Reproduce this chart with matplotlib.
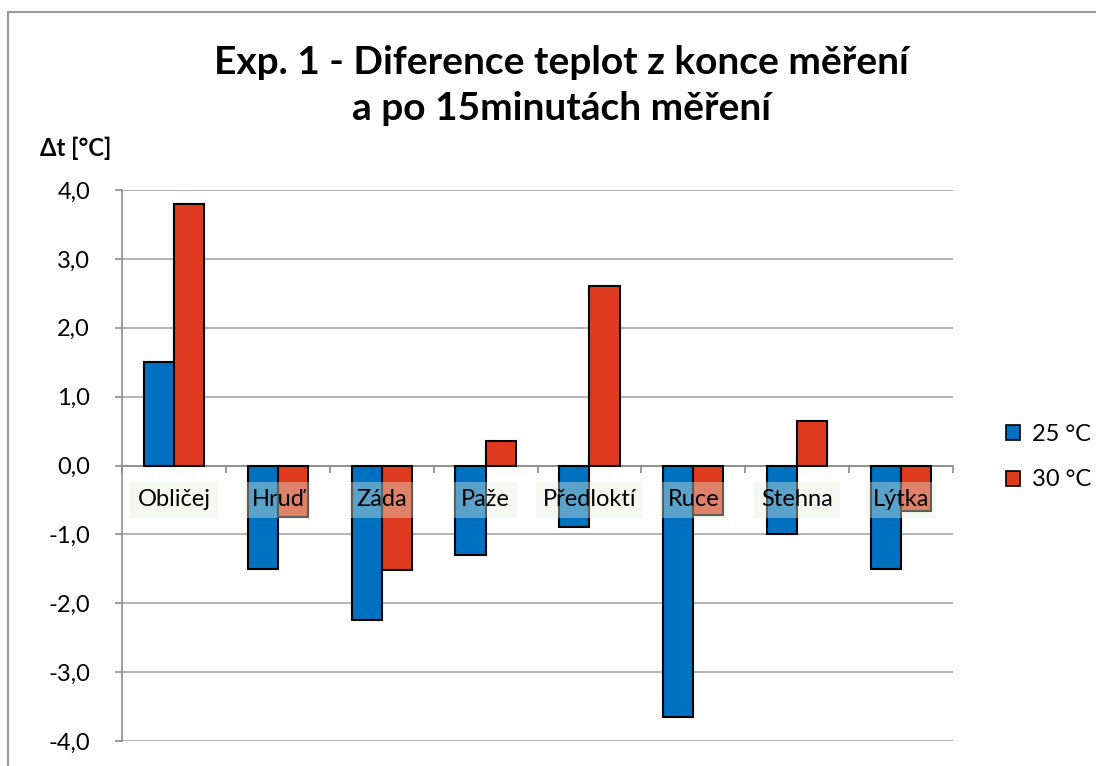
import matplotlib
matplotlib.use("Agg")
import matplotlib.pyplot as plt
from matplotlib.lines import Line2D
from matplotlib.patches import Patch
import numpy as np

plt.rcParams['font.family'] = ['Lato', 'DejaVu Sans']

categories = ["Obličej", "Hruď", "Záda", "Paže", "Předloktí", "Ruce", "Stehna", "Lýtka"]
series_names = ["25 °C", "30 °C"]
values_25 = [1.5, -1.5, -2.25, -1.3, -0.9, -3.65, -1.0, -1.5]
values_30 = [3.8, -0.75, -1.52, 0.35, 2.6, -0.72, 0.65, -0.66]
y_ticks = [4, 3, 2, 1, 0, -1, -2, -3, -4]

blue = "#0070C0"
red = "#DF3B1F"
grid_col = "#A6A6A6"
axis_col = "#8C8C8C"

W, H = 1096, 766
fig = plt.figure(figsize=(W / 100, H / 100), dpi=100)
ax = fig.add_axes([122 / W, 1 - 741 / H, (953 - 122) / W, (741 - 190) / H])

x = np.arange(len(categories))
bw = 0.29
ax.bar(x - bw / 2, values_25, bw, color=blue, edgecolor="black", linewidth=1.5, zorder=3)
ax.bar(x + bw / 2, values_30, bw, color=red, edgecolor="black", linewidth=1.5, zorder=3)

ax.set_xlim(-0.5, len(categories) - 0.5)
ax.set_ylim(-4, 4)
ax.tick_params(axis='x', direction='out', length=5, width=1.2, color=axis_col)
ax.tick_params(axis='y', direction='out', length=5, width=1.2, color=axis_col, pad=18)
ax.set_yticks(y_ticks)
ax.set_yticklabels([f"{v:.1f}".replace(".", ",") for v in y_ticks], fontsize=17)
ax.yaxis.grid(True, color=grid_col, linewidth=1.2, zorder=0)
ax.set_axisbelow(True)

# category axis runs along zero with ticks at group boundaries
ax.spines['bottom'].set_position(('data', 0))
ax.spines['bottom'].set_color(axis_col)
ax.spines['bottom'].set_linewidth(1.2)
ax.spines['left'].set_color(axis_col)
ax.spines['left'].set_linewidth(1.2)
ax.spines['top'].set_visible(False)
ax.spines['right'].set_visible(False)
ax.set_xticks(np.arange(len(categories) + 1) - 0.5)
ax.set_xticklabels([])

for xi, name in zip(x, categories):
    ax.text(xi, -0.5, name, ha='center', va='center', fontsize=17, zorder=5,
            bbox=dict(boxstyle='square,pad=0.3', facecolor=(228/255, 238/255, 218/255),
                      alpha=0.4, edgecolor='none'))

fig.text(561 / W, 1 - 62 / H, "Exp. 1 - Diference teplot z konce měření",
         ha='center', va='center', fontsize=28, fontweight='bold')
fig.text(561 / W, 1 - 109 / H, "a po 15minutách měření",
         ha='center', va='center', fontsize=28, fontweight='bold')
fig.text(40 / W, 1 - 148 / H, "Δt [°C]", ha='left', va='center', fontsize=17, fontweight='bold')

handles = [Patch(facecolor=blue, edgecolor='black', linewidth=1.2),
           Patch(facecolor=red, edgecolor='black', linewidth=1.2)]
fig.legend(handles, series_names, loc='center left', bbox_to_anchor=(1006 / W, 1 - 457 / H),
           frameon=False, fontsize=17, handlelength=0.6, handleheight=0.6,
           handletextpad=0.5, labelspacing=1.05, borderpad=0, borderaxespad=0)

# outer chart frame
fig.add_artist(Line2D([7.5 / W, 7.5 / W], [0, 1 - 11.5 / H], color="#9A9A9A", linewidth=1.5,
                      transform=fig.transFigure))
fig.add_artist(Line2D([7.5 / W, 1], [1 - 11.5 / H, 1 - 11.5 / H], color="#9A9A9A", linewidth=1.5,
                      transform=fig.transFigure))

fig.savefig("out.png", dpi=100)
